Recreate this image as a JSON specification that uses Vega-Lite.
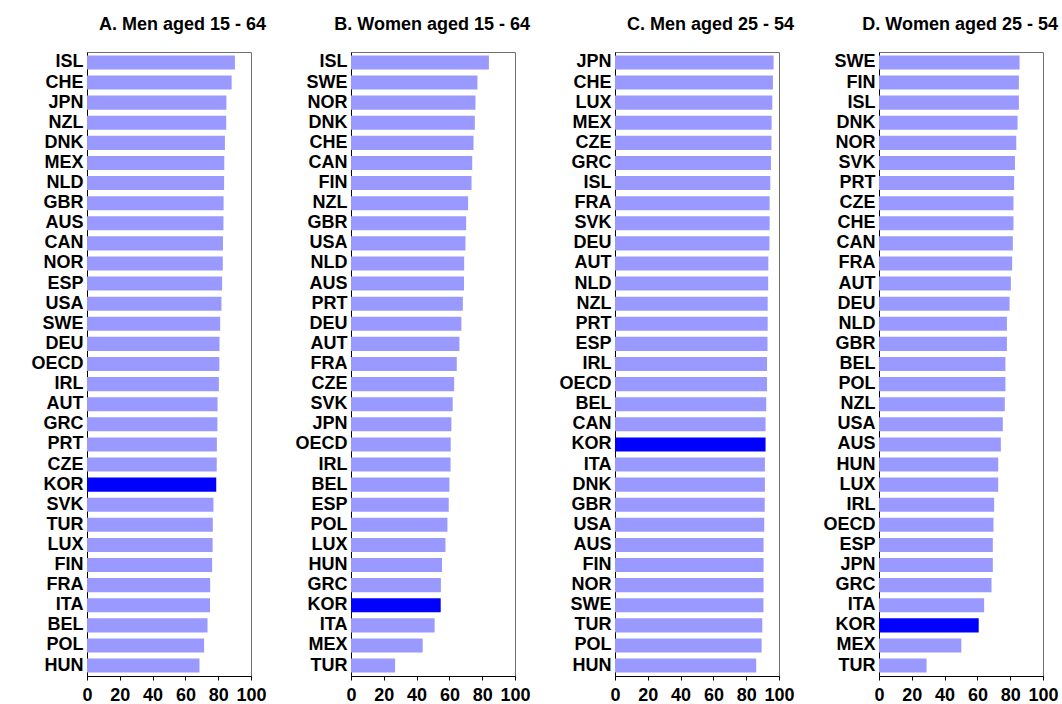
{
  "$schema": "https://vega.github.io/schema/vega-lite/v6.json",
  "padding": {"left": 30, "top": 15, "right": 5, "bottom": 5},
  "background": "white",
  "spacing": 100,
  "bounds": "flush",
  "datasets": {
    "A": [
      {"country": "ISL", "value": 90.2}, {"country": "CHE", "value": 88.2}, {"country": "JPN", "value": 85.0}, {"country": "NZL", "value": 84.9},
      {"country": "DNK", "value": 84.1}, {"country": "MEX", "value": 83.7}, {"country": "NLD", "value": 83.6}, {"country": "GBR", "value": 83.3},
      {"country": "AUS", "value": 83.2}, {"country": "CAN", "value": 82.9}, {"country": "NOR", "value": 82.8}, {"country": "ESP", "value": 82.4},
      {"country": "USA", "value": 82.0}, {"country": "SWE", "value": 81.2}, {"country": "DEU", "value": 80.8}, {"country": "OECD", "value": 80.7},
      {"country": "IRL", "value": 80.4}, {"country": "AUT", "value": 79.6}, {"country": "GRC", "value": 79.5}, {"country": "PRT", "value": 79.2},
      {"country": "CZE", "value": 79.1}, {"country": "KOR", "value": 78.8}, {"country": "SVK", "value": 77.1}, {"country": "TUR", "value": 76.7},
      {"country": "LUX", "value": 76.6}, {"country": "FIN", "value": 76.3}, {"country": "FRA", "value": 75.1}, {"country": "ITA", "value": 75.0},
      {"country": "BEL", "value": 73.5}, {"country": "POL", "value": 71.4}, {"country": "HUN", "value": 68.6}
    ],
    "B": [
      {"country": "ISL", "value": 84.1}, {"country": "SWE", "value": 77.1}, {"country": "NOR", "value": 75.9}, {"country": "DNK", "value": 75.5},
      {"country": "CHE", "value": 74.7}, {"country": "CAN", "value": 73.9}, {"country": "FIN", "value": 73.5}, {"country": "NZL", "value": 71.4},
      {"country": "GBR", "value": 70.2}, {"country": "USA", "value": 69.8}, {"country": "NLD", "value": 69.0}, {"country": "AUS", "value": 68.9},
      {"country": "PRT", "value": 68.2}, {"country": "DEU", "value": 67.3}, {"country": "AUT", "value": 66.1}, {"country": "FRA", "value": 64.5},
      {"country": "CZE", "value": 62.9}, {"country": "SVK", "value": 62.0}, {"country": "JPN", "value": 61.2}, {"country": "OECD", "value": 60.8},
      {"country": "IRL", "value": 60.7}, {"country": "BEL", "value": 60.0}, {"country": "ESP", "value": 59.6}, {"country": "POL", "value": 58.8},
      {"country": "LUX", "value": 57.6}, {"country": "HUN", "value": 55.5}, {"country": "GRC", "value": 54.8}, {"country": "KOR", "value": 54.7},
      {"country": "ITA", "value": 51.0}, {"country": "MEX", "value": 43.7}, {"country": "TUR", "value": 26.9}
    ],
    "C": [
      {"country": "JPN", "value": 96.7}, {"country": "CHE", "value": 96.3}, {"country": "LUX", "value": 95.9}, {"country": "MEX", "value": 95.5},
      {"country": "CZE", "value": 95.4}, {"country": "GRC", "value": 95.1}, {"country": "ISL", "value": 94.7}, {"country": "FRA", "value": 94.3},
      {"country": "SVK", "value": 94.3}, {"country": "DEU", "value": 94.2}, {"country": "AUT", "value": 93.5}, {"country": "NLD", "value": 93.4},
      {"country": "NZL", "value": 93.1}, {"country": "PRT", "value": 93.1}, {"country": "ESP", "value": 93.0}, {"country": "IRL", "value": 92.7},
      {"country": "OECD", "value": 92.7}, {"country": "BEL", "value": 92.2}, {"country": "CAN", "value": 91.8}, {"country": "KOR", "value": 91.8},
      {"country": "ITA", "value": 91.4}, {"country": "DNK", "value": 91.4}, {"country": "GBR", "value": 91.3}, {"country": "USA", "value": 91.0},
      {"country": "AUS", "value": 90.6}, {"country": "FIN", "value": 90.6}, {"country": "NOR", "value": 90.6}, {"country": "SWE", "value": 90.5},
      {"country": "TUR", "value": 89.8}, {"country": "POL", "value": 89.4}, {"country": "HUN", "value": 86.1}
    ],
    "D": [
      {"country": "SWE", "value": 85.7}, {"country": "FIN", "value": 85.3}, {"country": "ISL", "value": 85.3}, {"country": "DNK", "value": 84.5},
      {"country": "NOR", "value": 83.7}, {"country": "SVK", "value": 82.9}, {"country": "PRT", "value": 82.4}, {"country": "CZE", "value": 82.0},
      {"country": "CHE", "value": 82.0}, {"country": "CAN", "value": 81.6}, {"country": "FRA", "value": 81.2}, {"country": "AUT", "value": 80.4},
      {"country": "DEU", "value": 79.6}, {"country": "NLD", "value": 78.0}, {"country": "GBR", "value": 78.0}, {"country": "BEL", "value": 77.1},
      {"country": "POL", "value": 77.1}, {"country": "NZL", "value": 76.7}, {"country": "USA", "value": 75.5}, {"country": "AUS", "value": 74.3},
      {"country": "HUN", "value": 72.7}, {"country": "LUX", "value": 72.7}, {"country": "IRL", "value": 70.2}, {"country": "OECD", "value": 69.8},
      {"country": "ESP", "value": 69.4}, {"country": "JPN", "value": 69.4}, {"country": "GRC", "value": 68.6}, {"country": "ITA", "value": 64.1},
      {"country": "KOR", "value": 60.8}, {"country": "MEX", "value": 50.2}, {"country": "TUR", "value": 29.0}
    ]
  },
  "hconcat": [
    {
      "data": {"name": "A"},
      "title": "A. Men aged 15 - 64",
      "width": 164, "height": 624,
      "mark": {"type": "bar"},
      "encoding": {
        "y": {"field": "country", "type": "nominal", "sort": ["ISL","CHE","JPN","NZL","DNK","MEX","NLD","GBR","AUS","CAN","NOR","ESP","USA","SWE","DEU","OECD","IRL","AUT","GRC","PRT","CZE","KOR","SVK","TUR","LUX","FIN","FRA","ITA","BEL","POL","HUN"], "axis": {"title": null}, "scale": {"paddingInner": 0.3, "paddingOuter": 0.17}},
        "x": {"field": "value", "type": "quantitative", "scale": {"domain": [0, 100], "nice": false}, "axis": {"title": null, "values": [0, 20, 40, 60, 80, 100]}},
        "color": {"condition": {"test": "datum.country === 'KOR'", "value": "#0000FF"}, "value": "#9999FF"}
      }
    },
    {
      "data": {"name": "B"},
      "title": "B. Women aged 15 - 64",
      "width": 164, "height": 624,
      "mark": {"type": "bar"},
      "encoding": {
        "y": {"field": "country", "type": "nominal", "sort": ["ISL","SWE","NOR","DNK","CHE","CAN","FIN","NZL","GBR","USA","NLD","AUS","PRT","DEU","AUT","FRA","CZE","SVK","JPN","OECD","IRL","BEL","ESP","POL","LUX","HUN","GRC","KOR","ITA","MEX","TUR"], "axis": {"title": null}, "scale": {"paddingInner": 0.3, "paddingOuter": 0.17}},
        "x": {"field": "value", "type": "quantitative", "scale": {"domain": [0, 100], "nice": false}, "axis": {"title": null, "values": [0, 20, 40, 60, 80, 100]}},
        "color": {"condition": {"test": "datum.country === 'KOR'", "value": "#0000FF"}, "value": "#9999FF"}
      }
    },
    {
      "data": {"name": "C"},
      "title": "C. Men aged 25 - 54",
      "width": 164, "height": 624,
      "mark": {"type": "bar"},
      "encoding": {
        "y": {"field": "country", "type": "nominal", "sort": ["JPN","CHE","LUX","MEX","CZE","GRC","ISL","FRA","SVK","DEU","AUT","NLD","NZL","PRT","ESP","IRL","OECD","BEL","CAN","KOR","ITA","DNK","GBR","USA","AUS","FIN","NOR","SWE","TUR","POL","HUN"], "axis": {"title": null}, "scale": {"paddingInner": 0.3, "paddingOuter": 0.17}},
        "x": {"field": "value", "type": "quantitative", "scale": {"domain": [0, 100], "nice": false}, "axis": {"title": null, "values": [0, 20, 40, 60, 80, 100]}},
        "color": {"condition": {"test": "datum.country === 'KOR'", "value": "#0000FF"}, "value": "#9999FF"}
      }
    },
    {
      "data": {"name": "D"},
      "title": "D. Women aged 25 - 54",
      "width": 164, "height": 624,
      "mark": {"type": "bar"},
      "encoding": {
        "y": {"field": "country", "type": "nominal", "sort": ["SWE","FIN","ISL","DNK","NOR","SVK","PRT","CZE","CHE","CAN","FRA","AUT","DEU","NLD","GBR","BEL","POL","NZL","USA","AUS","HUN","LUX","IRL","OECD","ESP","JPN","GRC","ITA","KOR","MEX","TUR"], "axis": {"title": null}, "scale": {"paddingInner": 0.3, "paddingOuter": 0.17}},
        "x": {"field": "value", "type": "quantitative", "scale": {"domain": [0, 100], "nice": false}, "axis": {"title": null, "values": [0, 20, 40, 60, 80, 100]}},
        "color": {"condition": {"test": "datum.country === 'KOR'", "value": "#0000FF"}, "value": "#9999FF"}
      }
    }
  ],
  "config": {
    "font": "Liberation Sans",
    "view": {"stroke": "#707070", "strokeWidth": 1},
    "title": {"anchor": "end", "fontSize": 18, "fontWeight": "bold", "color": "black", "offset": 18, "font": "Liberation Sans"},
    "axis": {"grid": false, "domainColor": "black", "labelColor": "black", "labelFont": "Liberation Sans", "labelFontSize": 18, "labelFontWeight": "bold", "tickColor": "black"},
    "axisX": {"tickSize": 4, "labelFlush": false, "labelPadding": 6},
    "axisY": {"ticks": false, "labelPadding": 4, "domainWidth": 1}
  }
}
